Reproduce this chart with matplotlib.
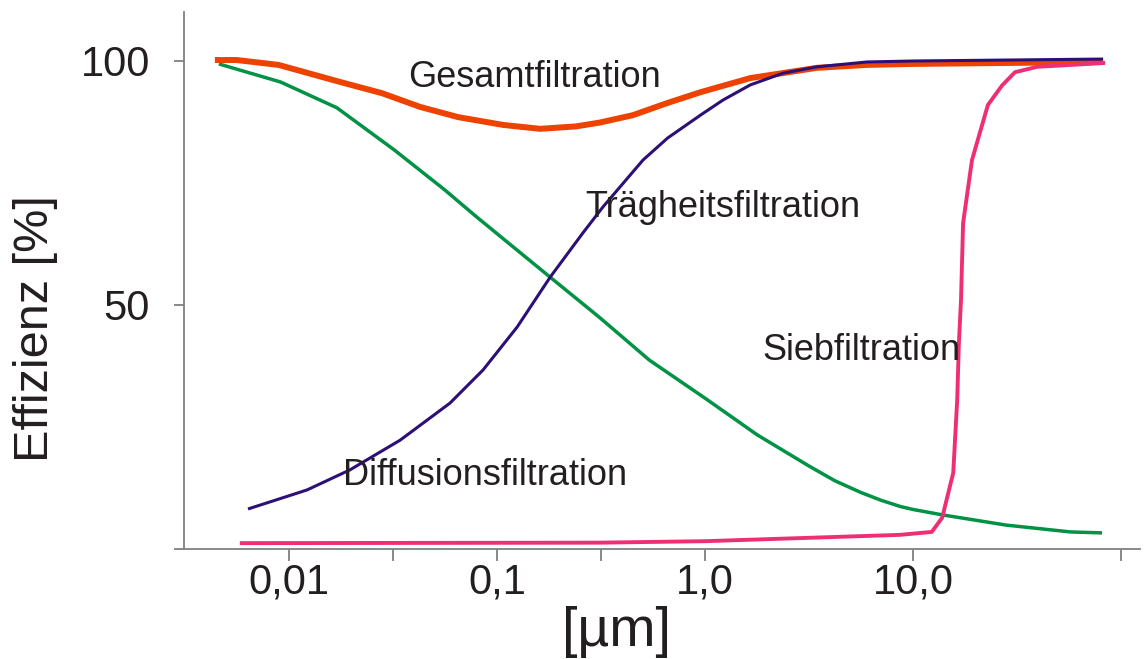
import matplotlib
matplotlib.use("Agg")
import matplotlib.pyplot as plt
from matplotlib import font_manager

# ---------------- data ----------------
diff_x = [0.0046, 0.0091, 0.017, 0.032, 0.056, 0.08, 0.18, 0.31, 0.54, 1.0, 1.78, 3.16, 4.2, 5.6, 7.0, 8.7, 10.0, 13.8, 28, 57, 81]
diff_y = [99.4, 95.7, 90.4, 81.8, 73.6, 68.0, 55.7, 47.5, 38.7, 30.9, 23.4, 17.0, 14.0, 11.6, 10.0, 8.7, 8.1, 7.0, 4.9, 3.5, 3.3]

traeg_x = [0.00635, 0.0122, 0.0196, 0.0342, 0.0594, 0.0857, 0.125, 0.18, 0.259, 0.323, 0.503, 0.66, 0.95, 1.22, 1.65, 2.37, 3.45, 6.0, 10.0, 82]
traeg_y = [8.2, 12.1, 16.2, 22.3, 29.9, 36.7, 45.5, 55.7, 64.8, 70.1, 79.7, 84.2, 88.9, 92.0, 95.1, 97.5, 98.8, 99.8, 100.0, 100.4]

gesamt_x = [0.0044, 0.0056, 0.0089, 0.0176, 0.028, 0.0426, 0.065, 0.107, 0.161, 0.24, 0.313, 0.45, 0.66, 0.95, 1.65, 3.45, 6.0, 10.0, 82]
gesamt_y = [100.2, 100.2, 99.2, 95.7, 93.4, 90.6, 88.5, 86.9, 86.1, 86.6, 87.4, 88.9, 91.4, 93.6, 96.5, 98.6, 99.2, 99.4, 99.8]

sieb_x = [0.0058, 0.31, 1.0, 8.66, 12.3, 13.8, 15.6, 16.3, 16.6, 17.0, 17.4, 19.2, 22.9, 26.8, 30.9, 39.4, 83.8]
sieb_y = [1.2, 1.3, 1.6, 2.9, 3.5, 6.4, 15.6, 30.5, 42.0, 51.0, 66.8, 79.7, 91.0, 95.0, 97.7, 98.8, 99.6]

xtick_vals = [0.01, 0.0316, 0.1, 0.316, 1.0, 10.0, 100.0]
xtick_labels = ["0,01", "", "0,1", "", "1,0", "10,0", ""]
ytick_vals = [0, 50, 100]
ytick_labels = ["", "50", "100"]

# ---------------- style ----------------
TXT = "#231f20"
AX = "#808080"
names = {f.name for f in font_manager.fontManager.ttflist}
base_font = "Liberation Sans" if "Liberation Sans" in names else "DejaVu Sans"
plt.rcParams["font.family"] = [base_font, "DejaVu Sans"]

fig = plt.figure(figsize=(11.47, 6.59), dpi=100)
ax = fig.add_axes([184 / 1147, (659 - 549) / 659, (1140 - 184) / 1147, (549 - 12) / 659])

ax.plot(diff_x, diff_y, color="#009245", lw=2.5, solid_capstyle="butt", zorder=2)
ax.plot(gesamt_x, gesamt_y, color="#ee4300", lw=4.3, solid_capstyle="butt", zorder=3)
ax.plot(traeg_x, traeg_y, color="#2c1077", lw=2.2, solid_capstyle="butt", zorder=4)
ax.plot(sieb_x, sieb_y, color="#ee2f74", lw=2.8, solid_capstyle="butt", zorder=5)

ax.set_xscale("log")
ax.set_xlim(10 ** -2.505, 10 ** 2.091)
ax.set_ylim(0, 110.04)

for s in ["top", "right"]:
    ax.spines[s].set_visible(False)
for s in ["left", "bottom"]:
    ax.spines[s].set_color(AX)
    ax.spines[s].set_linewidth(1.3)

ax.set_xticks(xtick_vals)
ax.set_xticklabels(xtick_labels)
ax.xaxis.set_minor_locator(matplotlib.ticker.NullLocator())
ax.set_yticks(ytick_vals)
ax.set_yticklabels(ytick_labels)
ax.tick_params(axis="x", direction="out", length=8.5, width=1.3, color=AX,
               labelsize=30, labelcolor=TXT, pad=1)
ax.tick_params(axis="y", direction="out", length=7.5, width=1.3, color=AX,
               labelsize=30, labelcolor=TXT, pad=17)

ax.set_xlabel("[µm]", fontsize=40, color=TXT)
ax.xaxis.set_label_coords((617 - 184) / 956, (549 - 606) / 537)
ax.set_ylabel("Effizienz [%]", fontsize=35, color=TXT)
ax.yaxis.label.set_va("center")
ax.yaxis.set_label_coords((36 - 184) / 956, (549 - 329) / 537)

lab = dict(fontsize=26, color=TXT, ha="left", va="baseline", zorder=6)
ax.text(10 ** ((408 - 705) / 208), (549 - 87) / 4.88, "Gesamtfiltration", **lab)
ax.text(10 ** ((585 - 705) / 208), (549 - 217) / 4.88, "Trägheitsfiltration", **lab)
ax.text(10 ** ((762 - 705) / 208), (549 - 360) / 4.88, "Siebfiltration", **lab)
ax.text(10 ** ((343 - 705) / 208), (549 - 485) / 4.88, "Diffusionsfiltration", **lab)

fig.savefig("out.png", dpi=100)
